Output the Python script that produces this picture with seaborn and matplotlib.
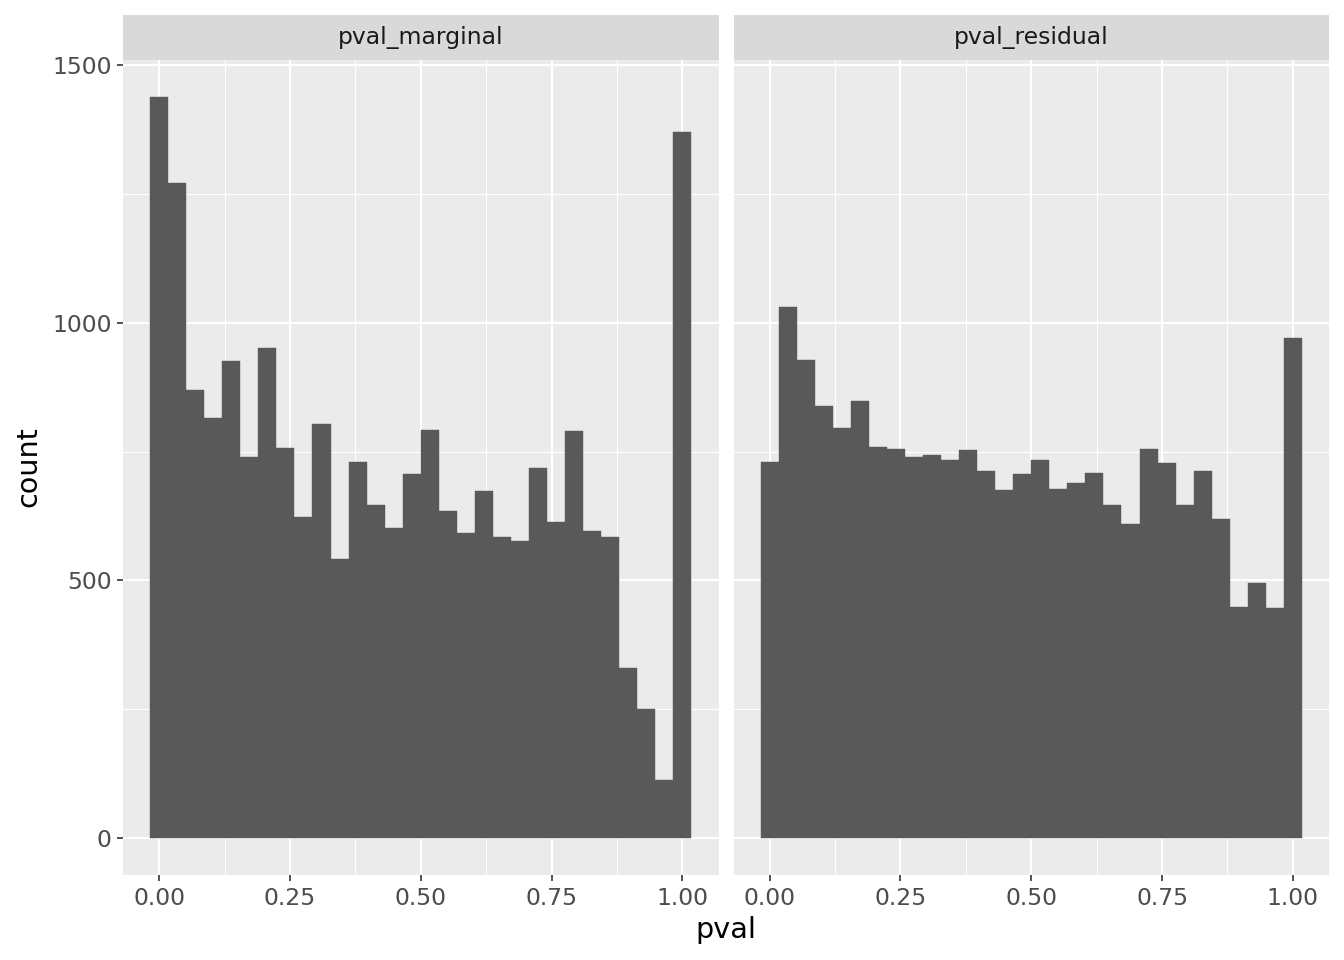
import numpy as np
import pandas as pd
import matplotlib
matplotlib.use("Agg")
import matplotlib.pyplot as plt
from matplotlib.patches import Rectangle
import seaborn as sns

# ---- data (bin counts, 30 bins over [0, 1]) ----
panels = ["pval_marginal", "pval_residual"]
marginal_counts = [1438, 1271, 870, 816, 925, 740, 950, 756, 622, 804,
                   542, 729, 647, 601, 707, 791, 634, 591, 674, 585,
                   577, 719, 614, 789, 595, 585, 329, 251, 112, 1371]
residual_counts = [729, 1030, 927, 838, 795, 848, 758, 754, 739, 744,
                   733, 752, 713, 676, 707, 734, 678, 688, 709, 647,
                   610, 754, 727, 647, 713, 620, 449, 494, 447, 971]
x_ticks = [0.0, 0.25, 0.5, 0.75, 1.0]
x_tick_labels = ["0.00", "0.25", "0.50", "0.75", "1.00"]
y_ticks = [0, 500, 1000, 1500]
y_tick_labels = ["0", "500", "1000", "1500"]

n_bins = len(marginal_counts)
width = 1.0 / (n_bins - 1)
centers = np.arange(n_bins) * width
lo, hi = centers[0] - width / 2, centers[-1] + width / 2

df = pd.DataFrame({
    "pval": np.concatenate([centers, centers]),
    "count": marginal_counts + residual_counts,
    "panel": [panels[0]] * n_bins + [panels[1]] * n_bins,
})

# ---- style ----
sns.set_theme(style="white")
plt.rcParams["font.family"] = ["DejaVu Sans"]

W, H = 1344, 960
g = sns.FacetGrid(df, col="panel", col_order=panels, sharex=True, sharey=True,
                  height=9.6, aspect=0.7, despine=False)
g.map_dataframe(sns.histplot, x="pval", weights="count", binwidth=width,
                binrange=(lo, hi),
                color="#595959", alpha=1, edgecolor="#595959", linewidth=0.3)
g.set_axis_labels("", "")
g.set_titles("")
fig = g.figure
fig.set_size_inches(W / 100, H / 100)
fig.set_dpi(100)
fig.patch.set_facecolor("white")

p_left, p_right, p_top, p_bot = 123, 1329, 60, 875
gap = 15
ax_w = (p_right - p_left - gap) / 2
fig.subplots_adjust(left=p_left / W, right=p_right / W, bottom=1 - p_bot / H,
                    top=1 - p_top / H, wspace=gap / ax_w)

xr = hi - lo
ymax = max(max(marginal_counts), max(residual_counts))
strip_h = 45 / (p_bot - p_top)

for i, (ax, name) in enumerate(zip(g.axes.flat, panels)):
    ax.set_facecolor("#EBEBEB")
    for s in ax.spines.values():
        s.set_visible(False)
    ax.set_xlim(lo - 0.05 * xr, hi + 0.05 * xr)
    ax.set_ylim(-0.05 * ymax, ymax * 1.05)
    ax.set_xticks(x_ticks)
    ax.set_xticklabels(x_tick_labels)
    ax.set_xticks([0.125, 0.375, 0.625, 0.875], minor=True)
    ax.set_yticks(y_ticks)
    ax.set_yticklabels(y_tick_labels)
    ax.set_yticks([250, 750, 1250], minor=True)
    ax.grid(which="major", color="white", linewidth=1.5)
    ax.grid(which="minor", color="white", linewidth=0.75)
    ax.set_axisbelow(True)
    ax.tick_params(axis="both", which="major", length=4.3, width=1.2,
                   color="#333333", labelsize=16.9, labelcolor="#4D4D4D", pad=4)
    ax.tick_params(axis="both", which="minor", length=0)
    ax.tick_params(axis="x", bottom=True)
    if i == 0:
        ax.tick_params(axis="y", left=True, labelleft=True)
    else:
        ax.tick_params(axis="y", left=False, labelleft=False)
    ax.set_xlabel("")
    ax.set_ylabel("")
    ax.add_patch(Rectangle((0, 1), 1, strip_h, transform=ax.transAxes,
                           clip_on=False, facecolor="#D9D9D9", edgecolor="none"))
    ax.text(0.5, 1 + strip_h / 2, name, transform=ax.transAxes, ha="center",
            va="center", fontsize=16.9, color="#1A1A1A")

fig.text((p_left + p_right) / 2 / W, 1 - 930 / H, "pval", ha="center",
         va="center", fontsize=20.6, color="black")
fig.text(28 / W, 1 - 467 / H, "count", ha="center", va="center",
         rotation=90, fontsize=20.6, color="black")

fig.savefig("out.png", dpi=100)
